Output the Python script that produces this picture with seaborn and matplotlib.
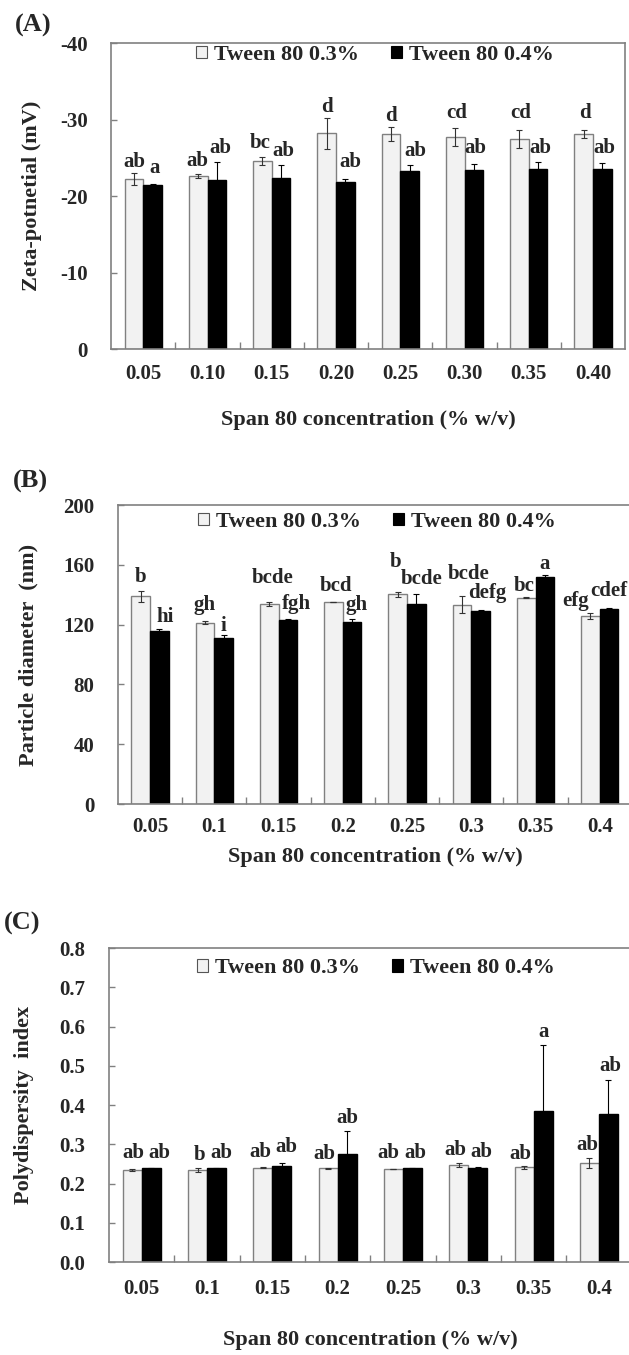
import numpy as np
import pandas as pd
import matplotlib
matplotlib.use('Agg')
import matplotlib.pyplot as plt
from matplotlib.container import BarContainer
import seaborn as sns

# ---------------- data ----------------
series = ['Tween 80 0.3%', 'Tween 80 0.4%']

conc_a = ['0.05', '0.10', '0.15', '0.20', '0.25', '0.30', '0.35', '0.40']
conc_bc = ['0.05', '0.1', '0.15', '0.2', '0.25', '0.3', '0.35', '0.4']

# (A) zeta potential, mV
zeta_03 = [-22.2, -22.6, -24.6, -28.2, -28.1, -27.7, -27.5, -28.1]
zeta_03_err = [0.8, 0.3, 0.5, 2.0, 0.9, 1.2, 1.2, 0.5]
zeta_04 = [-21.4, -22.1, -22.4, -21.9, -23.3, -23.4, -23.6, -23.5]
zeta_04_err = [0.15, 2.3, 1.6, 0.3, 0.7, 0.8, 0.9, 0.8]
zeta_03_let = ['ab', 'ab', 'bc', 'd', 'd', 'cd', 'cd', 'd']
zeta_04_let = ['a', 'ab', 'ab', 'ab', 'ab', 'ab', 'ab', 'ab']

# (B) particle diameter, nm
size_03 = [138.9, 121.3, 134.0, 135.1, 140.2, 133.3, 138.0, 125.8]
size_03_err = [3.8, 0.9, 1.3, 0.3, 1.6, 5.8, 0.3, 2.2]
size_04 = [115.8, 110.9, 122.9, 121.6, 134.0, 129.1, 151.8, 130.7]
size_04_err = [1.3, 2.4, 1.1, 2.2, 6.7, 0.5, 1.5, 0.6]
size_03_let = ['b', 'gh', 'bcde', 'bcd', 'b', 'bcde', 'bc', 'efg']
size_04_let = ['hi', 'i', 'fgh', 'gh', 'bcde', 'defg', 'a', 'cdef']

# (C) polydispersity index
pdi_03 = [0.235, 0.234, 0.240, 0.239, 0.237, 0.247, 0.241, 0.252]
pdi_03_err = [0.003, 0.005, 0.001, 0.001, 0.001, 0.005, 0.005, 0.013]
pdi_04 = [0.239, 0.239, 0.246, 0.275, 0.239, 0.239, 0.384, 0.378]
pdi_04_err = [0.001, 0.001, 0.007, 0.058, 0.001, 0.002, 0.169, 0.086]
pdi_03_let = ['ab', 'b', 'ab', 'ab', 'ab', 'ab', 'ab', 'ab']
pdi_04_let = ['ab', 'ab', 'ab', 'ab', 'ab', 'ab', 'a', 'ab']

# letter offsets from the error-bar tip (pixels: dx, dy)
off_a03 = [(0, 6), (-1, 8), (-2, 9), (0, 6), (0, 6), (1, 10), (1, 12), (1, 12)]
off_a04 = [(2, 11), (3, 9), (2, 9), (5, 12), (6, 9), (2, 11), (2, 9), (2, 10)]
off_b03 = [(0, 9), (0, 11), (3, 19), (3, 11), (-2, 25), (7, 17), (-2, 6), (-15, 7)]
off_b04 = [(6, 7), (0, 4), (9, 10), (4, 9), (5, 10), (7, 12), (0, 6), (0, 12)]
off_c03 = [(1, 11), (2, 8), (-2, 10), (-4, 9), (-5, 11), (-3, 8), (-4, 7), (-2, 8)]
off_c04 = [(8, 10), (5, 10), (5, 11), (0, 8), (3, 10), (4, 10), (0, 8), (2, 9)]

# ---------------- style ----------------
sns.set_theme(style='ticks')
plt.rcParams['font.family'] = ['Liberation Serif', 'DejaVu Serif']
plt.rcParams['font.weight'] = 'bold'
plt.rcParams['axes.unicode_minus'] = False

LIGHT = '#f2f2f2'
DARK = '#000000'
GREY = '#808080'
PX = 0.72  # points per pixel at dpi 100

fig = plt.figure(figsize=(6.29, 13.55), dpi=100)


def draw_panel(ax, cats, v03, e03, v04, e04, l03, l04, o03, o04,
               yticks, yfmt, ylim, ylabel, ylab_x, xpad, xlab_y, leg_xy):
    df = pd.DataFrame({
        'conc': cats + cats,
        'value': v03 + v04,
        'series': [series[0]] * len(cats) + [series[1]] * len(cats),
    })
    sns.barplot(data=df, x='conc', y='value', hue='series', order=cats,
                hue_order=series, palette=[LIGHT, DARK], width=0.58,
                errorbar=None, saturation=1, ax=ax)

    edge = [GREY, DARK]
    errs = [e03, e04]
    vals = [v03, v04]
    lets = [l03, l04]
    offs = [o03, o04]
    ecol = ['#333333', DARK]
    bar_conts = [c for c in ax.containers if isinstance(c, BarContainer)]
    for k, cont in enumerate(bar_conts):
        xs = []
        for bar in cont.patches:
            bar.set_edgecolor(edge[k])
            bar.set_linewidth(1.0)
            xs.append(bar.get_x() + bar.get_width() / 2)
        xs = np.array(xs)
        v = np.array(vals[k])
        e = np.array(errs[k])
        ax.errorbar(xs, v, yerr=e, fmt='none', ecolor=ecol[k],
                    elinewidth=0.8, capsize=2.3, capthick=0.8, zorder=3)
        tips = v + np.sign(v) * e
        for x, t, s, (dx, dy) in zip(xs, tips, lets[k], offs[k]):
            ax.annotate(s, xy=(x, t), xytext=(dx * PX, dy * PX),
                        textcoords='offset points', ha='center',
                        va='baseline', fontsize=15, fontweight='bold')

    ax.set_ylim(*ylim)
    ax.set_yticks(yticks)
    ax.set_yticklabels([yfmt.format(t) for t in yticks])
    ax.set_xlim(-0.5, len(cats) - 0.5)
    ax.set_xticks(np.arange(0.5, len(cats) - 0.5, 1), minor=True)

    for sp in ax.spines.values():
        sp.set_visible(True)
        sp.set_color(GREY)
        sp.set_linewidth(1.2)

    ax.tick_params(axis='y', direction='in', length=4, width=1,
                   color=GREY, pad=17, labelsize=15)
    ax.tick_params(axis='x', which='major', length=0, pad=xpad, labelsize=15)
    ax.tick_params(axis='x', which='minor', direction='in', length=5,
                   width=1, color=GREY)
    for lab in ax.get_xticklabels() + ax.get_yticklabels():
        lab.set_fontweight('bold')

    ax.set_ylabel(ylabel, fontsize=16, fontweight='bold')
    ax.yaxis.label.set_va('center')
    ax.yaxis.set_label_coords(ylab_x, 0.5)
    ax.set_xlabel('Span 80 concentration (% w/v)', fontsize=16,
                  fontweight='bold')
    ax.xaxis.label.set_va('center')
    ax.xaxis.set_label_coords(0.5, xlab_y)

    handles, labels = ax.get_legend_handles_labels()
    leg = ax.legend(handles, labels, loc='center', bbox_to_anchor=leg_xy,
                    ncol=2, frameon=False, handlelength=0.5,
                    handleheight=0.5, handletextpad=0.3,
                    columnspacing=1.45, borderaxespad=0,
                    prop={'weight': 'bold', 'size': 16})
    for h, c in zip(leg.legend_handles, ['#555555', DARK]):
        h.set_edgecolor(c)
        h.set_linewidth(0.8)
    ax.grid(False)


# (A)
ax_a = fig.add_axes([0.1768, 0.7424, 0.8170, 0.2258])
draw_panel(ax_a, conc_a, zeta_03, zeta_03_err, zeta_04, zeta_04_err,
           zeta_03_let, zeta_04_let, off_a03, off_a04,
           [0, -10, -20, -30, -40], '{:d}', (0, -40),
           'Zeta-potnetial (mV)', -0.155, 11, -0.232, (0.513, 0.961))

# (B)
ax_b = fig.add_axes([0.1874, 0.4066, 0.8172, 0.2207])
draw_panel(ax_b, conc_bc, size_03, size_03_err, size_04, size_04_err,
           size_03_let, size_04_let, off_b03, off_b04,
           [0, 40, 80, 120, 160, 200], '{:d}', (0, 200),
           'Particle diameter  (nm)', -0.173, 9.5, -0.177, (0.504, 0.943))

# (C)
ax_c = fig.add_axes([0.1733, 0.0686, 0.8308, 0.2317])
draw_panel(ax_c, conc_bc, pdi_03, pdi_03_err, pdi_04, pdi_04_err,
           pdi_03_let, pdi_04_let, off_c03, off_c04,
           [0.0, 0.1, 0.2, 0.3, 0.4, 0.5, 0.6, 0.7, 0.8], '{:.1f}', (0, 0.8),
           'Polydispersity  index', -0.162, 12, -0.248, (0.511, 0.936))

# panel tags
for tag, (x, y) in zip(['(A)', '(B)', '(C)'], [(33, 25), (30, 481), (22, 923)]):
    fig.text(x / 629, 1 - y / 1355, tag, ha='center', va='center',
             fontsize=19, fontweight='bold')

fig.savefig('out.png', dpi=100)
